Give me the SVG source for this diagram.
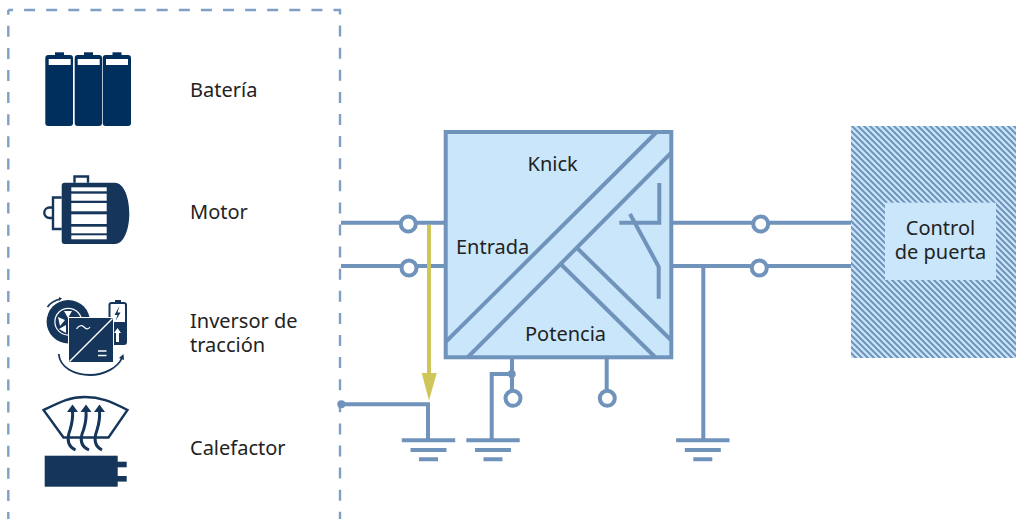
<svg xmlns="http://www.w3.org/2000/svg" width="1016" height="519" viewBox="0 0 1016 519">
<style>
text{font-family:"Noto Sans","Open Sans",sans-serif;font-size:20px;fill:#222}
.w{fill:none;stroke:#7093bb;stroke-width:4}
.t{fill:#fff;stroke:#7093bb;stroke-width:4}
.g{fill:none;stroke:#7093bb;stroke-width:4}
.d{fill:#15355a}
.o{fill:none;stroke:#15355a;stroke-width:2.4}
.wb{fill:#fff}
.f{fill:none;stroke:#7f9fc5;stroke-width:2.4;stroke-dasharray:11 11.1;stroke-dashoffset:6.3}
</style>
<defs>
<pattern id="h" width="6" height="6" patternUnits="userSpaceOnUse">
<rect width="6" height="6" fill="#c9e6fb"/>
<path d="M-1.5 -1.5L7.5 7.5M-1.5 4.5L1.5 7.5M4.5 -1.5L7.5 1.5" stroke="#7093bb" stroke-width="2" fill="none"/>
</pattern>
<g id="gnd"><path class="g" d="M-26.7 0H26.7M-18 9.7H18M-9.5 19H9.5"/></g>
</defs>
<rect width="1016" height="519" fill="#fff"/>
<g id="frame"><path class="f" d="M8.3 10V519"/><path class="f" d="M8.3 10H340V519"/></g>

<g id="connectors">
<path class="w" d="M341 222.7H445M341 266H445M673 222.7H851M673 266H851M703.3 266V440"/>
<path class="w" d="M341 404.3H428V440M491.7 440V374H512M512 358V390M606.7 358V390"/>
<circle cx="341.3" cy="404.3" r="4" fill="#7093bb"/>
<circle cx="511.7" cy="374" r="4" fill="#7093bb"/>
<use href="#gnd" x="428.5" y="440.3"/>
<use href="#gnd" x="493" y="440.3"/>
<use href="#gnd" x="702.8" y="440.3"/>
<circle class="t" cx="408.3" cy="224" r="7.5"/>
<circle class="t" cx="409" cy="268" r="7.5"/>
<circle class="t" cx="760.7" cy="224" r="7.5"/>
<circle class="t" cx="759.3" cy="268" r="7.5"/>
<circle class="t" cx="513" cy="398.3" r="7.5"/>
<circle class="t" cx="607.3" cy="398.3" r="7.5"/>
<path d="M429 225V375" fill="none" stroke="#cfc65a" stroke-width="4"/>
<path d="M421.7 373H436.7L429 400.7Z" fill="#cfc65a"/>
</g>

<g id="bateria">
<g style="fill:#002f5d">
<rect x="45.3" y="55" width="27.7" height="71" rx="3"/><rect x="55" y="52.3" width="9" height="4"/>
<rect x="74.7" y="55" width="27.3" height="71" rx="3"/><rect x="84" y="52.3" width="9" height="4"/>
<rect x="102.7" y="55" width="28.3" height="71" rx="3"/><rect x="112.5" y="52.3" width="9" height="4"/>
</g>
<rect class="wb" x="48.7" y="59" width="22" height="6"/><rect class="wb" x="77.7" y="59" width="22" height="6"/><rect class="wb" x="106" y="59" width="22" height="6"/>
<text x="190" y="97">Batería</text>
</g>

<g id="motor">
<path class="d" d="M64 182.7H115C124 182.7 129.3 198 129.3 213.5C129.3 229 124 244 115 244H64A2.5 2.5 0 0 1 61.7 241.5V185A2.5 2.5 0 0 1 64 182.7Z"/>
<g class="wb">
<rect x="71.3" y="187.3" width="35.4" height="4"/><rect x="71.3" y="193.7" width="35.4" height="7"/><rect x="71.3" y="203" width="35.4" height="8.3"/><rect x="71.3" y="214.3" width="35.4" height="9.7"/><rect x="71.3" y="226.7" width="35.4" height="6.6"/><rect x="71.3" y="235.3" width="35.4" height="4"/>
</g>
<path class="o" d="M74.5 182.7V176.5H88V182.7M61.7 197.5H53V229H61.7M53 207.5H49.5A5 5 0 0 0 49.5 218H53"/>
<text x="190" y="219">Motor</text>
</g>

<g id="inversor">
<circle cx="68.3" cy="321.7" r="21.7" class="d"/>
<circle cx="68.3" cy="321.7" r="14" class="wb"/>
<circle cx="68.3" cy="321.7" r="12.8" class="d"/>
<path class="wb" d="M58 317L65 320L60 326ZM64 311L68 318L72 311ZM59 329L66 325L66 333Z"/>
<path d="M47.5 307C50 303 55 300.5 60 299" fill="none" stroke="#15355a" stroke-width="1.8"/>
<path class="d" d="M59 297L62 298.5L59 301Z"/>
<rect x="109.5" y="303" width="16.5" height="41" rx="2" fill="#fff" stroke="#15355a" stroke-width="2"/>
<rect x="115" y="300" width="6" height="3" class="d"/>
<rect x="109.5" y="322" width="16.5" height="22" rx="2" class="d"/>
<path class="d" d="M119.5 306L114.5 315H117.5L115.5 321L120.5 312.5H117.5Z"/>
<path class="wb" d="M117.5 328L114 333H116V342H119V333H121Z"/>
<rect x="68.5" y="317.5" width="45" height="45" class="d" stroke="#fff" stroke-width="1"/>
<path d="M69.5 361.5L112.5 318.5" stroke="#fff" stroke-width="1.4" fill="none"/>
<path d="M76.5 329C79 325 82 325 84 327S88 330 90 327" fill="none" stroke="#fff" stroke-width="1.2"/>
<path d="M98 351H106.5M98 355.5H106.5" stroke="#fff" stroke-width="1.6" fill="none"/>
<path d="M58.7 354C60 368 75 375 90 375C105 375 118 367 122 358" fill="none" stroke="#15355a" stroke-width="1.8"/>
<path class="d" d="M119 358L123.5 354L124 360Z"/>
<text x="190" y="328">Inversor de</text>
<text x="190" y="352">tracción</text>
</g>

<g id="calefactor">
<path class="o" d="M43.5 410C62 401 70 397 85 397C100 397 110 401 127.5 410L108.5 437.5H63.5Z"/>
<g fill="none" stroke="#15355a" stroke-width="3">
<path d="M75.5 450C67 446 67 438 70 430C72.5 422 73 417 72.5 411"/>
<path d="M89 450C80 446 80 438 83.5 430C86 422 86.5 417 86 411"/>
<path d="M102 450C94 446 94 438 97 430C99.5 422 100 417 99.5 411"/>
</g>
<path class="d" d="M67 412L72.5 404.5L78 412ZM80.5 412L86 404.5L91.5 412ZM94 412L99.5 404.5L105 412Z"/>
<rect x="44.7" y="455.7" width="73" height="31" class="d"/>
<rect x="117" y="461.7" width="9.7" height="5.6" class="d"/><rect x="117" y="476" width="9.7" height="5.6" class="d"/>
<text x="190" y="455">Calefactor</text>
</g>

<g id="aislador">
<rect x="445.7" y="132" width="225.6" height="225.3" fill="#c9e6fb" stroke="#7093bb" stroke-width="4"/>
<path class="w" d="M656.7 132L446 341.7M671 153L468 357M577 248L671 340M560.7 264L655 357"/>
<path class="w" d="M659.3 183V222.7H619.3M630 214L658.7 266.7V298.7"/>
<text x="527.5" y="171">Knick</text>
<text x="456" y="254">Entrada</text>
<text x="525" y="341">Potencia</text>
</g>

<g id="control">
<rect x="851" y="126" width="165" height="232" fill="url(#h)"/>
<rect x="885" y="202.7" width="111" height="77.3" fill="#c9e6fb"/>
<text x="940.5" y="235" text-anchor="middle">Control</text>
<text x="940.5" y="259" text-anchor="middle">de puerta</text>
</g>
</svg>
